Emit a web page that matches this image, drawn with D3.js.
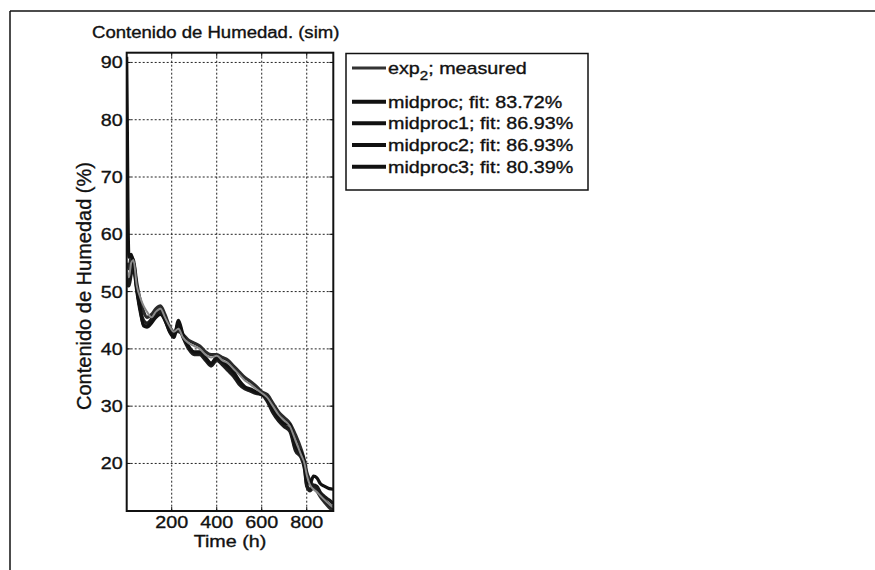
<!DOCTYPE html>
<html lang="en">
<head>
<meta charset="UTF-8" />
<script src="https://d3js.org/d3.v7.min.js"></script>
<style>
  body { margin: 0; background: #fff; }
  text { font-family: "Liberation Sans", Arial, sans-serif; fill: #111; stroke: #111; stroke-width: 0.35px; }
</style>
</head>
<body>
<svg width="875" height="570"></svg>
<script>
// time axis (h)
var hours = [0, 3, 6, 10, 20, 30, 45, 60, 75, 90, 110, 130, 150, 170, 190, 210, 230, 250, 275, 300,
  325, 350, 375, 400, 425, 450, 475, 500, 525, 550, 575, 600, 625, 650, 675, 700, 725, 750, 775, 790,
  800, 815, 830, 845, 860, 880, 900, 918];

var measured = [54, 53.5, 53, 52.5, 55, 55.5, 51, 49, 47.5, 46.5, 45.5, 46.5, 47, 45.5, 44, 43, 43.5, 42, 41, 40.5,
  40, 39, 38.5, 38.8, 38, 37.5, 36.5, 35.5, 34.5, 33.8, 33, 32.3, 31.5, 30, 28.5, 27.5, 26.5, 24, 21.5, 20,
  18, 16.2, 15.5, 15, 14.4, 13.6, 12.9, 12.3];
var midproc = [91, 78, 63, 56, 56.5, 55, 50.5, 47, 44, 43.8, 44.5, 45.5, 46, 45, 43, 42, 45, 42.5, 40.5, 39.5,
  39.5, 38.5, 37.5, 38.5, 37.8, 37, 36, 34.5, 33.4, 33, 32.5, 32, 31.5, 29.5, 28, 27, 26.8, 23, 22, 20,
  17, 16.5, 17.8, 17.5, 16.5, 16, 15.6, 15.5];
var midproc1 = [52, 51.5, 51, 51, 53, 54, 50, 46.5, 44.2, 44, 45, 46, 46.5, 45, 43.2, 42.3, 44.5, 42.2, 40.2, 39.2,
  39.2, 38.2, 37.2, 38.3, 37.5, 36.5, 35.5, 34, 33.2, 32.8, 32.4, 32.2, 31, 29, 27.6, 26.6, 26, 22.5, 21.5, 19.5,
  16.2, 15.5, 16.2, 16, 15, 14.2, 13.6, 13];
var midproc2 = [53, 52.5, 52, 52, 54, 55, 50.5, 47, 45, 44.5, 45.2, 46.3, 47, 45.5, 43.5, 42.5, 44, 42, 40, 39,
  39, 38, 37, 38, 37.2, 36.2, 35.2, 33.8, 33, 32.6, 32.2, 32, 30.8, 28.8, 27.4, 26.4, 25.6, 22.2, 21, 19,
  16, 15.2, 15.8, 15.5, 14.5, 13.5, 12.8, 12.2];
var midproc3 = [55, 54.5, 54, 54, 56, 55.5, 51.5, 48.5, 46.5, 45.5, 46, 47, 47.5, 46, 44, 43, 43, 42.5, 41.5, 41,
  40.5, 39.5, 39, 39, 38.5, 38, 37, 36, 35, 34.3, 33.5, 32.5, 32, 30.5, 29, 28, 27, 25, 22.5, 20.5,
  18.5, 17, 16, 15.2, 14.2, 13.2, 12.3, 11.7];

var seriesNames = ["exp_2; measured", "midproc; fit: 83.72%", "midproc1; fit: 86.93%",
  "midproc2; fit: 86.93%", "midproc3; fit: 80.39%"];
var seriesValues = [measured, midproc, midproc1, midproc2, midproc3];
var seriesColors = ["#8a8a8a", "#111", "#1a1a1a", "#222", "#2a2a2a"];

var xTicks = [200, 400, 600, 800];
var yTicks = [20, 30, 40, 50, 60, 70, 80, 90];

var svg = d3.select("svg");
var sx = 1.16; // scanned text is wider than tall

function label(x, y, str, size, anchor) {
  return svg.append("text")
    .attr("transform", "translate(" + x + "," + y + ") scale(" + sx + ",1)")
    .attr("text-anchor", anchor || "start")
    .style("font-size", size + "px")
    .text(str);
}

// outer frame
svg.append("line").attr("x1", 10).attr("y1", 11).attr("x2", 875).attr("y2", 11)
  .attr("stroke", "#111").attr("stroke-width", 1.5);
svg.append("line").attr("x1", 10).attr("y1", 11).attr("x2", 10).attr("y2", 570)
  .attr("stroke", "#111").attr("stroke-width", 1.5);

var pLeft = 126.7, pRight = 333.3, pTop = 52.7, pBottom = 511;
var x = d3.scaleLinear().domain([0, 918]).range([pLeft, pRight]);
var y = d3.scaleLinear().domain([11.7, 91.7]).range([pBottom, pTop]);

// grid
svg.selectAll(".gx").data(xTicks).enter().append("line")
  .attr("x1", d => x(d)).attr("x2", d => x(d)).attr("y1", pTop).attr("y2", pBottom)
  .attr("stroke", "#222").attr("stroke-width", 1).attr("stroke-dasharray", "2,2");
svg.selectAll(".gy").data(yTicks).enter().append("line")
  .attr("y1", d => y(d)).attr("y2", d => y(d)).attr("x1", pLeft).attr("x2", pRight)
  .attr("stroke", "#222").attr("stroke-width", 1).attr("stroke-dasharray", "2,2");

// lines
svg.append("clipPath").attr("id", "clip").append("rect")
  .attr("x", pLeft).attr("y", pTop).attr("width", pRight - pLeft).attr("height", pBottom - pTop);

var line = d3.line().x((d, i) => x(hours[i])).y(d => y(d)).curve(d3.curveMonotoneX);
var order = [4, 3, 2, 1, 0];
svg.append("g").attr("clip-path", "url(#clip)")
  .selectAll("path").data(order).enter().append("path")
  .attr("d", i => line(seriesValues[i]))
  .attr("fill", "none")
  .attr("stroke", i => seriesColors[i])
  .attr("stroke-width", i => i == 0 ? 2 : 3.2)
  .attr("stroke-linejoin", "round");

// axes box with inward ticks
svg.append("rect").attr("x", pLeft).attr("y", pTop).attr("width", pRight - pLeft).attr("height", pBottom - pTop)
  .attr("fill", "none").attr("stroke", "#111").attr("stroke-width", 2);
xTicks.forEach(function(t) {
  svg.append("line").attr("x1", x(t)).attr("x2", x(t)).attr("y1", pBottom).attr("y2", pBottom - 4).attr("stroke", "#111");
  svg.append("line").attr("x1", x(t)).attr("x2", x(t)).attr("y1", pTop).attr("y2", pTop + 4).attr("stroke", "#111");
  label(x(t), 528, t, 17, "middle");
});
yTicks.forEach(function(t) {
  svg.append("line").attr("x1", pLeft).attr("x2", pLeft + 4).attr("y1", y(t)).attr("y2", y(t)).attr("stroke", "#111");
  svg.append("line").attr("x1", pRight).attr("x2", pRight - 4).attr("y1", y(t)).attr("y2", y(t)).attr("stroke", "#111");
  label(pLeft - 4, y(t) + 6, t, 17, "end");
});

label(92, 38, "Contenido de Humedad. (sim)", 16, "start");
label(230, 547, "Time (h)", 17, "middle");
svg.append("text")
  .attr("transform", "translate(91,286) rotate(-90)")
  .attr("text-anchor", "middle")
  .style("font-size", "20px")
  .text("Contenido de Humedad (%)");

// legend
var lg = svg.append("g");
lg.append("rect").attr("x", 346).attr("y", 53.5).attr("width", 242).attr("height", 136.5)
  .attr("fill", "#fff").attr("stroke", "#111").attr("stroke-width", 1.5);
var rowY = [68, 101.7, 123.3, 145, 166.7];
seriesNames.forEach(function(name, i) {
  lg.append("line").attr("x1", 352).attr("x2", 386).attr("y1", rowY[i]).attr("y2", rowY[i])
    .attr("stroke", i == 0 ? "#333" : "#111").attr("stroke-width", i == 0 ? 3 : 4);
  var t = lg.append("text")
    .attr("transform", "translate(388," + (rowY[i] + 6) + ") scale(" + sx + ",1)")
    .style("font-size", "17px");
  var parts = name.split("_");
  if (parts.length > 1) {
    t.append("tspan").text(parts[0]);
    t.append("tspan").attr("dy", 6).style("font-size", "13px").text(parts[1].charAt(0));
    t.append("tspan").attr("dy", -6).text(parts[1].slice(1));
  } else {
    t.text(name);
  }
});
</script>
</body>
</html>
